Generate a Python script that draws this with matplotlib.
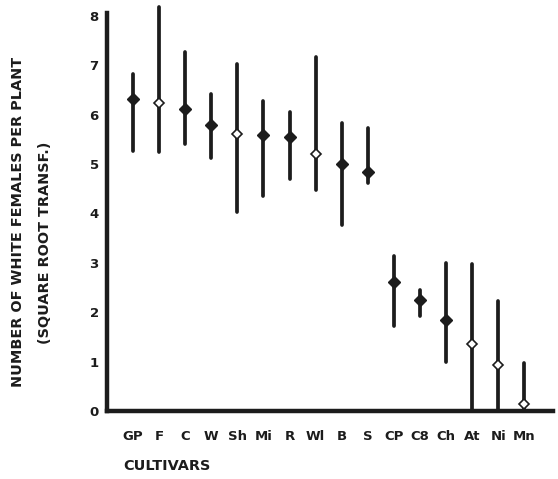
import matplotlib
matplotlib.use("Agg")
import matplotlib.pyplot as plt
import numpy as np

# values (square-root transformed counts)
cultivars = ["GP", "F", "C", "W", "Sh", "Mi", "R", "Wl", "B", "S",
             "CP", "C8", "Ch", "At", "Ni", "Mn"]
means = [6.31, 6.23, 6.11, 5.78, 5.60, 5.58, 5.54, 5.21, 5.01, 4.83,
         2.62, 2.25, 1.85, 1.36, 0.93, 0.14]
upper = [6.82, 8.17, 7.26, 6.41, 7.02, 6.27, 6.06, 7.16, 5.84, 5.72,
         3.14, 2.45, 3.00, 2.98, 2.23, 0.97]
lower = [5.27, 5.25, 5.40, 5.13, 4.02, 4.36, 4.69, 4.48, 3.77, 4.61,
         1.72, 1.93, 0.99, 0.00, 0.00, 0.00]
hollow = [False, True, False, False, True, False, False, True, False, False,
          False, False, False, True, True, True]

ink = "#1c1c1c"
plt.rcParams['font.family'] = ['DejaVu Sans']

fig = plt.figure(figsize=(5.58, 4.79), dpi=100)
ax = fig.add_axes([107/558, 1 - 411/479, (553-107)/558, 410/479])

x = np.arange(len(cultivars))
for i in range(len(cultivars)):
    ax.plot([x[i], x[i]], [lower[i], upper[i]], color=ink, lw=2.7,
            solid_capstyle='round', clip_on=False)
    if hollow[i]:
        ax.plot(x[i], means[i], marker='D', ms=5, mfc='white', mec=ink,
                mew=1.2, clip_on=False, zorder=3)
    else:
        ax.plot(x[i], means[i], marker='D', ms=6, mfc=ink, mec=ink,
                clip_on=False, zorder=3)

ax.set_xlim(-1.0, 16.1)
ax.set_ylim(0, 8.3)
ax.set_xticks(x)
ax.set_xticklabels(cultivars, fontsize=9.5, fontweight='bold', color=ink)
ax.set_yticks(range(0, 9))
ax.set_yticklabels([str(v) for v in range(0, 9)], fontsize=9.5,
                   fontweight='bold', color=ink)
ax.tick_params(axis='both', length=0)
ax.tick_params(axis='x', pad=14)
ax.tick_params(axis='y', pad=6)

for s in ['top', 'right']:
    ax.spines[s].set_visible(False)
ax.spines['left'].set_linewidth(3.2)
ax.spines['bottom'].set_linewidth(3.2)
ax.spines['left'].set_color(ink)
ax.spines['bottom'].set_color(ink)
ax.spines['left'].set_bounds(0, 8.05)

fig.text(18/558, 1 - 222/479, "NUMBER OF WHITE FEMALES PER PLANT",
         rotation=90, ha='center', va='center', fontsize=10.4,
         fontweight='bold', color=ink)
fig.text(45/558, 1 - 243/479, "(SQUARE ROOT TRANSF.)",
         rotation=90, ha='center', va='center', fontsize=10.4,
         fontweight='bold', color=ink)
fig.text(123/558, 1 - 466/479, "CULTIVARS", ha='left', va='center',
         fontsize=10.4, fontweight='bold', color=ink)

fig.savefig("out.png", dpi=100, facecolor='white')
